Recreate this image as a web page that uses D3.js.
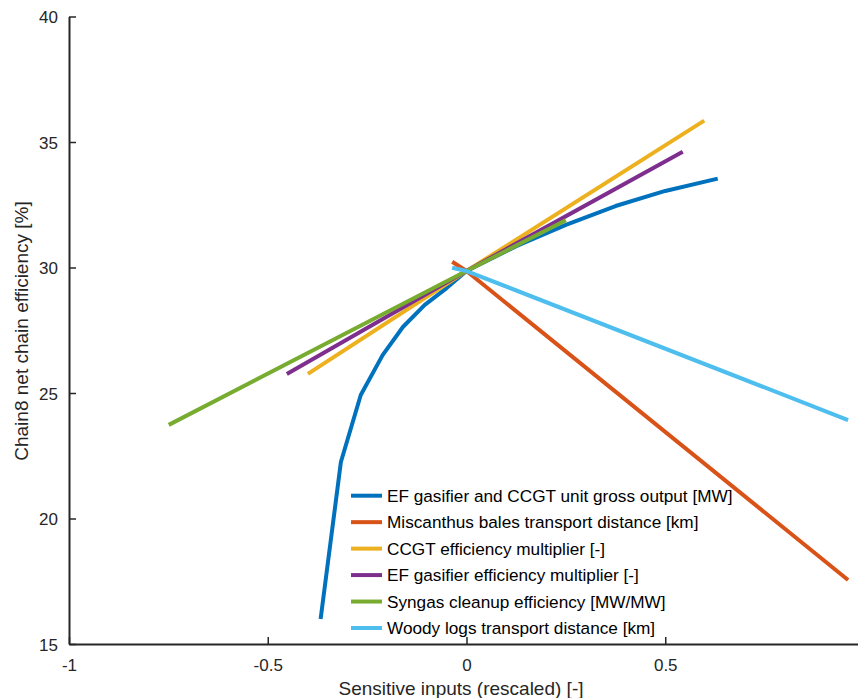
<!DOCTYPE html>
<html>
<head>
<meta charset="utf-8">
<script src="https://cdn.jsdelivr.net/npm/d3@7"></script>
<style>
  html, body { margin: 0; padding: 0; background: #fff; }
  svg { display: block; font-family: "Liberation Sans", Arial, sans-serif; }
</style>
</head>
<body>
<svg id="chart" width="858" height="698"></svg>
<script>
// ---- data ----
const seriesNames = [
  "EF gasifier and CCGT unit gross output [MW]",
  "Miscanthus bales transport distance [km]",
  "CCGT efficiency multiplier [-]",
  "EF gasifier efficiency multiplier [-]",
  "Syngas cleanup efficiency [MW/MW]",
  "Woody logs transport distance [km]"
];
const seriesColors = ["#0072BD", "#D95319", "#EDB120", "#7E2F8E", "#77AC30", "#4DBEEE"];

const grossOutputX = [-0.367, -0.316, -0.266, -0.211, -0.160, -0.105, -0.050, 0, 0.125, 0.25, 0.375, 0.5, 0.632];
const grossOutputY = [16.0, 22.25, 24.92, 26.51, 27.63, 28.51, 29.18, 29.86, 30.85, 31.7, 32.45, 33.05, 33.54];

const miscanthusX = [-0.036, 0, 0.960];
const miscanthusY = [30.23, 29.86, 17.55];

const ccgtX = [-0.399, 0, 0.598];
const ccgtY = [25.76, 29.86, 35.85];

const gasifierEffX = [-0.452, 0, 0.544];
const gasifierEffY = [25.76, 29.86, 34.61];

const syngasX = [-0.749, 0, 0.25];
const syngasY = [23.73, 29.86, 31.88];

const woodyX = [-0.036, 0, 0.960];
const woodyY = [29.99, 29.86, 23.92];

const xTicks = [-1, -0.5, 0, 0.5];
const yTicks = [15, 20, 25, 30, 35, 40];
const xTitle = "Sensitive inputs (rescaled) [-]";
const yTitle = "Chain8 net chain efficiency [%]";

// ---- build ----
const seriesX = [grossOutputX, miscanthusX, ccgtX, gasifierEffX, syngasX, woodyX];
const seriesY = [grossOutputY, miscanthusY, ccgtY, gasifierEffY, syngasY, woodyY];
const series = seriesNames.map((name, i) => ({
  name, color: seriesColors[i],
  pts: seriesX[i].map((x, j) => [x, seriesY[i][j]])
}));

const svg = d3.select("#chart");
const axisColor = "#262626";
const fontSize = 17;
const titleSize = 19;

const x = d3.scaleLinear().domain([-1, 1]).range([69, 864]);
const y = d3.scaleLinear().domain([15, 40]).range([644, 16.5]);

// lines
const line = d3.line().x(d => x(d[0])).y(d => y(d[1])).curve(d3.curveMonotoneX);
svg.append("g").selectAll("path").data(series).join("path")
  .attr("d", d => d3.line().x(p => x(p[0])).y(p => y(p[1]))(d.pts))
  .attr("fill", "none")
  .attr("stroke", d => d.color)
  .attr("stroke-width", 4)
  .attr("stroke-linejoin", "round");

// axes
const xAxis = svg.append("g").attr("transform", `translate(0,${y(15)})`)
  .call(d3.axisBottom(x).tickValues(xTicks).tickSizeInner(-7).tickSizeOuter(0)
    .tickFormat(d => String(d)));
const yAxis = svg.append("g").attr("transform", `translate(${x(-1)},0)`)
  .call(d3.axisLeft(y).tickValues(yTicks).tickSizeInner(-7).tickSizeOuter(0).tickPadding(11)
    .tickFormat(d => String(d)));

[xAxis, yAxis].forEach(g => {
  g.select(".domain").attr("stroke", axisColor).attr("stroke-width", 2);
  g.selectAll(".tick line").attr("stroke", axisColor).attr("stroke-width", 1.5);
  g.selectAll(".tick text").attr("fill", axisColor)
    .attr("font-size", fontSize).attr("font-family", "Liberation Sans, Arial, sans-serif");
});
xAxis.selectAll(".tick text").attr("dy", "0.71em").attr("y", 15);
yAxis.selectAll(".tick text").attr("dy", "0.36em");

// axis titles
svg.append("text").attr("x", 461).attr("y", 695)
  .attr("text-anchor", "middle").attr("fill", axisColor).attr("font-size", titleSize)
  .text(xTitle);
svg.append("text").attr("transform", "translate(28,331) rotate(-90)")
  .attr("text-anchor", "middle").attr("fill", axisColor).attr("font-size", titleSize)
  .text(yTitle);

// legend
const legend = svg.append("g");
const rowY = d3.scaleLinear().domain([0, 5]).range([495.7, 628]);
series.forEach((s, i) => {
  legend.append("line").attr("x1", 351).attr("x2", 382)
    .attr("y1", rowY(i)).attr("y2", rowY(i))
    .attr("stroke", s.color).attr("stroke-width", 4);
  legend.append("text").attr("x", 387).attr("y", rowY(i)).attr("dy", "0.36em")
    .attr("fill", "#000").attr("font-size", 17.2).text(s.name);
});
</script>
</body>
</html>
